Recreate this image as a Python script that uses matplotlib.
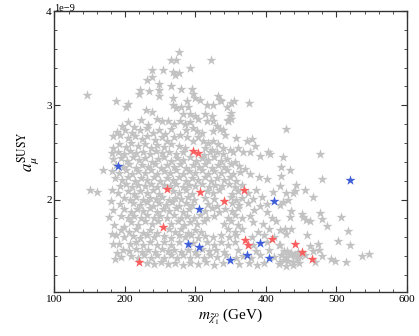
import matplotlib
matplotlib.use("Agg")
from matplotlib import pyplot as plt
from matplotlib.ticker import MultipleLocator

# ──────────────────────────────────────────────
# Data: (neutralino mass in GeV, a_mu^SUSY in units of 1e-9)
# ──────────────────────────────────────────────
gray_upper = [
    (146, 3.11), (188, 3.05), (205, 3.01), (202, 2.98), (221, 3.16), (220, 3.12),
    (234, 3.15), (232, 3.27), (238, 3.30), (239, 3.37), (254, 3.38), (249, 3.23),
    (249, 3.16), (248, 3.10), (266, 3.48), (273, 3.48), (277, 3.57), (268, 3.35),
    (271, 3.32), (277, 3.34), (266, 3.21), (268, 3.08), (268, 3.00), (322, 3.48),
    (292, 3.40), (280, 3.17), (295, 3.17), (297, 3.12), (288, 3.05), (299, 3.08),
    (306, 3.06), (316, 3.00), (325, 3.00), (332, 3.10), (335, 3.06), (337, 3.05),
    (351, 3.03), (355, 3.05), (376, 3.02), (273, 2.97), (280, 2.98), (290, 2.98),
    (345, 2.98), (230, 2.95), (238, 2.93), (283, 2.91), (292, 2.91), (313, 2.91),
    (323, 2.89), (349, 2.89), (351, 2.92), (299, 2.89), (304, 2.86), (351, 2.85),
    (346, 2.84),
]

gray_core_hi = [
    (196, 2.78), (205, 2.82), (213, 2.77), (223, 2.84), (233, 2.79), (245, 2.85),
    (252, 2.83), (261, 2.83), (270, 2.80), (278, 2.83), (285, 2.80), (292, 2.82),
    (316, 2.83), (325, 2.83), (330, 2.78), (346, 2.83),
    (189, 2.72), (200, 2.74), (210, 2.71), (221, 2.74), (231, 2.76), (240, 2.71),
    (249, 2.74), (257, 2.70), (266, 2.75), (287, 2.74), (297, 2.76), (302, 2.73),
    (309, 2.71), (325, 2.73), (335, 2.75), (339, 2.74), (342, 2.69),
    (183, 2.67), (193, 2.69), (204, 2.65), (214, 2.68), (224, 2.64), (232, 2.67),
    (243, 2.63), (252, 2.66), (260, 2.62), (270, 2.66), (278, 2.69), (288, 2.66),
    (297, 2.62), (304, 2.66), (311, 2.62), (318, 2.60), (325, 2.62), (332, 2.59),
    (358, 2.65), (373, 2.62), (380, 2.64),
    (183, 2.55), (192, 2.59), (201, 2.56), (209, 2.60), (218, 2.57), (228, 2.59),
    (237, 2.55), (246, 2.58), (256, 2.56), (266, 2.59), (277, 2.57), (285, 2.55),
    (314, 2.55), (323, 2.53), (339, 2.55), (349, 2.53), (361, 2.55), (368, 2.51),
    (377, 2.50), (385, 2.57),
    (182, 2.49), (190, 2.51), (199, 2.48), (207, 2.52), (216, 2.49), (226, 2.51),
    (235, 2.48), (244, 2.52), (253, 2.49), (262, 2.51), (272, 2.48), (282, 2.50),
    (312, 2.47), (321, 2.50), (330, 2.50), (339, 2.48), (354, 2.50), (392, 2.46),
    (403, 2.50), (406, 2.48),
]

gray_core_mid = [
    (183, 2.43), (194, 2.44), (203, 2.41), (211, 2.45), (220, 2.42), (229, 2.44),
    (238, 2.40), (247, 2.43), (256, 2.45), (265, 2.41), (274, 2.44), (283, 2.42),
    (292, 2.45), (301, 2.41), (309, 2.44), (318, 2.42), (327, 2.45), (336, 2.41),
    (345, 2.43), (356, 2.40),
    (188, 2.37), (197, 2.35), (206, 2.38), (215, 2.34), (224, 2.37), (233, 2.35),
    (242, 2.38), (251, 2.34), (260, 2.37), (269, 2.35), (278, 2.38), (287, 2.34),
    (296, 2.37), (305, 2.35), (314, 2.38), (323, 2.34), (332, 2.37), (341, 2.35),
    (350, 2.38), (362, 2.36), (370, 2.33),
    (181, 2.30), (192, 2.28), (201, 2.31), (210, 2.27), (219, 2.30), (228, 2.28),
    (237, 2.31), (246, 2.27), (255, 2.30), (264, 2.28), (273, 2.31), (282, 2.27),
    (291, 2.30), (300, 2.28), (309, 2.31), (318, 2.27), (327, 2.30), (336, 2.28),
    (345, 2.31), (354, 2.27), (363, 2.29), (378, 2.27),
    (186, 2.23), (196, 2.21), (205, 2.24), (214, 2.20), (223, 2.23), (232, 2.21),
    (241, 2.24), (250, 2.20), (259, 2.23), (268, 2.21), (277, 2.24), (286, 2.20),
    (295, 2.23), (304, 2.21), (313, 2.24), (322, 2.20), (331, 2.23), (340, 2.21),
    (349, 2.24), (358, 2.20), (390, 2.24), (402, 2.22),
    (193, 2.14), (201, 2.17), (210, 2.13), (219, 2.16), (228, 2.14), (237, 2.17),
    (246, 2.13), (255, 2.16), (264, 2.14), (273, 2.17), (282, 2.13), (291, 2.16),
    (300, 2.14), (310, 2.17), (319, 2.13), (328, 2.16), (338, 2.14), (347, 2.17),
    (356, 2.13), (366, 2.16),
    (181, 2.10), (190, 2.07), (204, 2.09), (213, 2.06), (222, 2.09), (231, 2.07),
    (240, 2.10), (249, 2.06), (268, 2.09), (277, 2.07), (286, 2.10), (295, 2.06),
    (316, 2.09), (325, 2.07), (334, 2.10), (352, 2.06), (360, 2.09), (375, 2.07),
    (386, 2.10), (410, 2.08),
    (198, 2.02), (207, 2.00), (216, 2.03), (226, 2.00), (235, 2.02), (244, 2.01),
    (253, 2.03), (262, 2.00), (271, 2.02), (280, 2.01), (289, 2.03), (298, 2.00),
    (313, 2.02), (327, 2.01), (350, 2.03), (358, 2.00), (366, 2.02), (381, 2.01),
    (395, 2.03),
]

gray_core_lo = [
    (180, 1.98), (193, 1.95), (212, 1.96), (221, 1.94), (231, 1.97), (240, 1.93),
    (249, 1.96), (258, 1.94), (267, 1.97), (277, 1.93), (286, 1.96), (295, 1.94),
    (318, 1.95), (330, 1.93), (352, 1.96), (362, 1.94), (374, 1.96), (392, 1.93),
    (401, 1.95),
    (183, 1.89), (199, 1.90), (208, 1.87), (217, 1.90), (226, 1.88), (236, 1.91),
    (245, 1.87), (254, 1.90), (263, 1.88), (273, 1.91), (282, 1.87), (291, 1.90),
    (314, 1.88), (324, 1.91), (333, 1.87), (342, 1.90), (352, 1.88), (361, 1.91),
    (383, 1.89), (401, 1.87),
    (178, 1.82), (195, 1.83), (204, 1.80), (213, 1.83), (223, 1.81), (232, 1.84),
    (241, 1.80), (250, 1.83), (260, 1.81), (270, 1.84), (279, 1.80), (288, 1.83),
    (298, 1.81), (307, 1.84), (317, 1.80), (327, 1.83), (346, 1.81), (356, 1.84),
    (366, 1.80), (377, 1.83), (408, 1.81),
    (184, 1.73), (198, 1.71), (209, 1.76), (219, 1.73), (229, 1.77), (238, 1.74),
    (247, 1.77), (266, 1.74), (275, 1.77), (284, 1.73), (293, 1.76), (302, 1.74),
    (312, 1.77), (341, 1.74), (351, 1.77), (361, 1.73), (381, 1.76), (396, 1.74),
    (414, 1.77),
    (181, 1.64), (195, 1.68), (206, 1.66), (216, 1.69), (226, 1.65), (236, 1.68),
    (245, 1.65), (262, 1.69), (271, 1.66), (280, 1.69), (290, 1.65), (299, 1.68),
    (308, 1.66), (346, 1.69), (356, 1.66), (366, 1.69), (389, 1.66), (405, 1.69),
    (187, 1.62), (198, 1.60), (212, 1.61), (222, 1.59), (232, 1.62), (241, 1.60),
    (256, 1.61), (266, 1.59), (276, 1.62), (285, 1.60), (294, 1.62), (304, 1.59),
    (314, 1.61), (325, 1.60), (336, 1.62), (347, 1.60), (357, 1.62), (380, 1.60),
    (397, 1.62), (412, 1.60),
]

gray_core_bottom = [
    (183, 1.53), (192, 1.53), (207, 1.53), (216, 1.55), (226, 1.52), (236, 1.55),
    (246, 1.52), (256, 1.55), (266, 1.52), (277, 1.55), (297, 1.54), (316, 1.55),
    (326, 1.52), (336, 1.55), (346, 1.52), (356, 1.55), (381, 1.52), (401, 1.55),
    (419, 1.52),
    (189, 1.43), (197, 1.47), (206, 1.45), (215, 1.48), (224, 1.44), (233, 1.47),
    (243, 1.44), (252, 1.48), (261, 1.45), (270, 1.47), (280, 1.44), (289, 1.47),
    (299, 1.44), (309, 1.48), (319, 1.45), (329, 1.47), (341, 1.44), (361, 1.47),
    (386, 1.45), (405, 1.47), (426, 1.45),
    (186, 1.37), (195, 1.39), (209, 1.40), (218, 1.38), (227, 1.41), (237, 1.38),
    (246, 1.41), (255, 1.38), (265, 1.41), (274, 1.38), (283, 1.41), (293, 1.38),
    (302, 1.41), (312, 1.38), (321, 1.41), (331, 1.39), (344, 1.41), (357, 1.38),
    (367, 1.40), (379, 1.38), (391, 1.41), (412, 1.39),
    (231, 1.33), (241, 1.32), (251, 1.34), (261, 1.32), (271, 1.33), (282, 1.31),
    (293, 1.33), (303, 1.32), (315, 1.34), (327, 1.31), (339, 1.33), (362, 1.32),
    (376, 1.33), (387, 1.31), (398, 1.33), (418, 1.32),
]

gray_outer = [
    (150, 2.10), (161, 2.085), (169, 2.31),
    (429, 2.75), (477, 2.48), (424, 2.45), (422, 2.35), (434, 2.31), (480, 2.22),
    (422, 2.25), (420, 2.14), (443, 2.15), (455, 2.10), (439, 2.07), (428, 2.07),
    (441, 2.09), (467, 2.03), (432, 2.00), (424, 1.97), (420, 1.94), (436, 1.88),
    (434, 1.82), (451, 1.85), (453, 1.82), (457, 1.78), (462, 1.77), (477, 1.86),
    (479, 1.79), (486, 1.72), (507, 1.82), (517, 1.67), (427, 1.69), (436, 1.69),
    (429, 1.64), (420, 1.68), (458, 1.62), (462, 1.51), (474, 1.53), (476, 1.47),
    (467, 1.46), (479, 1.40), (493, 1.37), (498, 1.35), (514, 1.34), (536, 1.40),
    (546, 1.42), (519, 1.52), (503, 1.56), (420, 1.52), (422, 1.41), (420, 1.34),
    (429, 1.39), (434, 1.41), (436, 1.43), (441, 1.41), (444, 1.37), (439, 1.34),
    (446, 1.39), (455, 1.41), (469, 1.34), (430, 1.46), (435, 1.42), (445, 1.44),
    (432, 1.35), (438, 1.31), (448, 1.40), (425, 1.36), (428, 1.30), (447, 1.33),
]

red_pts = [
    (296, 2.52), (303.5, 2.49), (260, 2.115), (307, 2.085), (369, 2.10), (341, 1.985),
    (253.5, 1.71), (371, 1.575), (374.5, 1.515), (408, 1.58), (441.6, 1.525),
    (451, 1.445), (465.7, 1.37), (220, 1.337),
]

blue_pts = [
    (190.5, 2.353), (304.5, 1.90), (411.8, 1.985), (519, 2.21), (290, 1.53),
    (305, 1.50), (391, 1.54), (349.4, 1.357), (372.6, 1.417), (404.7, 1.378),
]

GRAY = "#c2c2c2"
RED = "#f95d5d"
BLUE = "#3f5fd8"
SCALE = 1e-9


def split(points):
    xs = [p[0] for p in points]
    ys = [p[1] * SCALE for p in points]
    return xs, ys


plt.rcParams["font.family"] = "serif"
plt.rcParams["font.serif"] = ["Liberation Serif", "DejaVu Serif"]
plt.rcParams["mathtext.fontset"] = "stix"

fig = plt.figure(figsize=(4.19, 3.36), dpi=100)
ax = fig.add_axes([0.130, 0.131, 0.841, 0.836])

gray_all = gray_upper + gray_core_hi + gray_core_mid + gray_core_lo + gray_core_bottom + gray_outer
for pts, col in [(gray_all, GRAY), (red_pts, RED), (blue_pts, BLUE)]:
    xs, ys = split(pts)
    ax.scatter(xs, ys, marker="*", s=58, color=col, linewidths=0, zorder=2)

ax.set_xlim(100, 600)
ax.set_ylim(1.02e-9, 4e-9)
ax.xaxis.set_major_locator(MultipleLocator(100))
ax.xaxis.set_minor_locator(MultipleLocator(20))
ax.yaxis.set_major_locator(MultipleLocator(1e-9))
ax.yaxis.set_minor_locator(MultipleLocator(0.2e-9))
ax.tick_params(which="both", direction="in", top=True, right=True,
               labelsize=8, color="#333333", pad=2)
ax.tick_params(which="major", length=4, width=0.8)
ax.tick_params(which="minor", length=2, width=0.6)
for sp in ax.spines.values():
    sp.set_color("#333333")
    sp.set_linewidth(1.0)

# offset label drawn by hand so it sits just on the top spine like the original
ax.yaxis.get_offset_text().set_visible(False)
ax.text(0.0, 1.0, "1e\u22129", transform=ax.transAxes, fontsize=7.5,
        ha="left", va="baseline")

ax.set_xlabel(r"$m_{\tilde{\chi}_1^0}$ (GeV)", fontsize=11, labelpad=2)
ax.set_ylabel(r"$a_\mu^{\rm SUSY}$", fontsize=12, labelpad=4)

fig.savefig("out.png", dpi=100)
